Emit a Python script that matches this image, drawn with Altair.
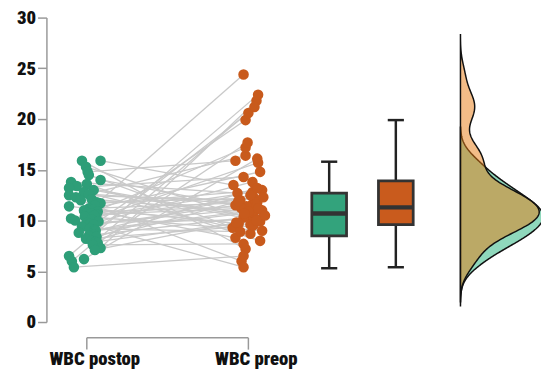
import altair as alt
import pandas as pd

# ---------------- data ----------------
groups = ["WBC postop", "WBC preop"]

post = [15.9, 15.9, 15.3, 14.8, 14.5, 14.0, 13.8, 13.6, 13.4, 13.2,
        13.0, 12.8, 12.6, 12.5, 12.3, 12.1, 12.0, 11.8, 11.7, 11.5,
        11.4, 11.2, 11.1, 11.0, 10.9, 10.8, 10.7, 10.6, 10.5, 10.4,
        10.2, 10.1, 10.0, 9.9, 9.8, 9.7, 9.6, 9.4, 9.2, 9.1,
        9.0, 8.8, 8.6, 8.5, 8.4, 8.2, 8.0, 7.9, 7.8, 7.6,
        7.3, 7.1, 6.5, 6.2, 6.0, 5.4]
pre = [7.2, 13.5, 9.9, 15.9, 8.7, 11.0, 12.7, 8.0, 10.4, 14.3,
       10.3, 9.3, 11.6, 12.0, 16.4, 10.8, 6.0, 12.2, 13.0, 24.4,
       9.7, 11.8, 9.6, 14.8, 8.3, 11.4, 17.2, 11.2, 12.8, 9.0,
       12.3, 15.7, 5.4, 13.8, 10.1, 11.2, 19.9, 11.5, 8.9, 10.9,
       12.5, 10.7, 10.5, 20.6, 13.2, 9.5, 11.9, 10.0, 17.7, 7.7,
       21.8, 9.8, 22.4, 16.1, 21.2, 6.5]
post_jitter = [-0.12, 0.34, -0.02, 0.02, 0.05, 0.34, -0.39, 0.0, -0.25, -0.44,
               0.17, -0.07, 0.05, -0.44, -0.27, 0.12, -0.15, 0.25, 0.34, 0.2,
               -0.44, 0.05, 0.15, -0.07, 0.27, 0.0, 0.1, 0.24, 0.18, -0.05,
               -0.39, 0.12, -0.29, 0.29, 0.0, 0.08, 0.17, -0.12, 0.07, 0.2,
               0.22, -0.2, 0.17, 0.05, 0.24, -0.02, 0.12, 0.22, 0.27, 0.15,
               0.34, 0.2, -0.44, -0.07, -0.37, -0.32]
pre_jitter = [-0.07, -0.37, 0.29, -0.32, 0.05, 0.34, -0.27, 0.29, 0.0, -0.12,
              -0.12, -0.39, 0.1, -0.2, -0.07, 0.12, -0.17, 0.15, 0.34, -0.12,
              -0.24, 0.22, 0.05, 0.29, -0.32, -0.05, -0.07, -0.17, 0.1, 0.34,
              0.37, 0.24, -0.12, 0.1, 0.27, 0.25, -0.07, -0.32, -0.2, 0.0,
              0.05, -0.1, 0.41, 0.0, 0.22, 0.12, -0.25, 0.2, -0.02, -0.12,
              0.2, -0.3, 0.24, 0.22, 0.15, -0.12]

box_low = [5.3, 5.4]
box_q1 = [8.5, 9.6]
box_median = [10.7, 11.3]
box_q3 = [12.7, 13.9]
box_high = [15.8, 19.9]

point_colors = ["#2e9e78", "#c85a1c"]
box_colors = ["#33a37c", "#c95b1d"]
dens_colors = ["#1fb27a", "#e8790f"]

# ---------------- layout ----------------
W, H = 492, 309          # 12 x-units, y 0..30
PX = H / 30.0            # px per y unit
GROUP_X = [1.0, 5.0]
BOX_X = [7.0, 8.65]
DENS_X = 10.25
DENS_W = [2.05, 1.95]
FONT = "Liberation Sans Narrow, Roboto Condensed, DejaVu Sans Condensed, Arial Narrow, sans-serif"

xs = alt.Scale(domain=[0, 12], nice=False, zero=False)
ys = alt.Scale(domain=[0, 30], nice=False, zero=False)

pairs = pd.DataFrame({
    "post": post, "pre": pre,
    "xa": [GROUP_X[0] + j for j in post_jitter],
    "xb": [GROUP_X[1] + j for j in pre_jitter],
})
points = pd.DataFrame({
    "group": [groups[0]] * len(post) + [groups[1]] * len(pre),
    "value": post + pre,
    "x": list(pairs["xa"]) + list(pairs["xb"]),
})
boxes = pd.DataFrame({
    "group": groups, "c": BOX_X, "lo": box_low, "q1": box_q1,
    "med": box_median, "q3": box_q3, "hi": box_high,
})
labels = pd.DataFrame({"group": groups, "x": GROUP_X})

yaxis = alt.Axis(values=[0, 5, 10, 15, 20, 25, 30], title=None, grid=False,
                 domainColor="#999999", domainWidth=1.5, tickColor="#999999",
                 tickWidth=1.5, tickSize=9, labelPadding=2, labelFontSize=19,
                 labelFont=FONT, labelFontWeight=900, labelColor="#111111")

lines = alt.Chart(pairs).mark_rule(color="#c9c9c9", strokeWidth=1.3).encode(
    x=alt.X("xa:Q", scale=xs, axis=None), x2="xb:Q",
    y=alt.Y("post:Q", scale=ys, axis=yaxis), y2="pre:Q")

dots = alt.Chart(points).mark_circle(size=115, opacity=1).encode(
    x=alt.X("x:Q", scale=xs), y=alt.Y("value:Q", scale=ys),
    color=alt.Color("group:N", scale=alt.Scale(domain=groups, range=point_colors), legend=None))

box_base = alt.Chart(boxes).transform_calculate(
    l="datum.c - 0.43", r="datum.c + 0.43", cl="datum.c - 0.2", cr="datum.c + 0.2")
whisk_hi = box_base.mark_rule(color="#222222", strokeWidth=2.5).encode(
    x=alt.X("c:Q", scale=xs), y=alt.Y("q3:Q", scale=ys), y2="hi:Q")
whisk_lo = box_base.mark_rule(color="#222222", strokeWidth=2.5).encode(
    x=alt.X("c:Q", scale=xs), y=alt.Y("lo:Q", scale=ys), y2="q1:Q")
cap_hi = box_base.mark_rule(color="#222222", strokeWidth=2.5).encode(
    x=alt.X("cl:Q", scale=xs), x2="cr:Q", y=alt.Y("hi:Q", scale=ys))
cap_lo = box_base.mark_rule(color="#222222", strokeWidth=2.5).encode(
    x=alt.X("cl:Q", scale=xs), x2="cr:Q", y=alt.Y("lo:Q", scale=ys))
box = box_base.mark_bar(stroke="#333333", strokeWidth=2.8).encode(
    x=alt.X("l:Q", scale=xs), x2="r:Q", y=alt.Y("q1:Q", scale=ys), y2="q3:Q",
    fill=alt.Fill("group:N", scale=alt.Scale(domain=groups, range=box_colors), legend=None))
med = box_base.mark_rule(color="#333333", strokeWidth=4.5).encode(
    x=alt.X("l:Q", scale=xs), x2="r:Q", y=alt.Y("med:Q", scale=ys))


def density(i, extent):
    return (alt.Chart(points)
            .transform_filter(alt.datum.group == groups[i])
            .transform_density("value", as_=["v", "density"], bandwidth=1.2,
                               extent=extent, steps=200)
            .transform_joinaggregate(maxd="max(density)")
            .transform_calculate(xb=f"{DENS_X}",
                                 xc=f"{DENS_X} + datum.density / datum.maxd * {DENS_W[i]}")
            .mark_area(orient="horizontal", fill=dens_colors[i], fillOpacity=0.5,
                       stroke="#111111", strokeWidth=1.5)
            .encode(y=alt.Y("v:Q", scale=ys), x=alt.X("xb:Q", scale=xs), x2="xc:Q"))


dens_post = density(0, [2.0, 19.2])
dens_pre = density(1, [1.6, 28.3])

# bracket-style x axis
y_line = -16 / PX
y_tick = -28 / PX
y_text = -44 / PX
br_h = alt.Chart(labels).mark_rule(color="#999999", strokeWidth=1.5).encode(
    x=alt.X("min(x):Q", scale=xs), x2="max(x):Q", y=alt.datum(y_line, scale=ys))
br_v = alt.Chart(labels).mark_rule(color="#999999", strokeWidth=1.5).encode(
    x=alt.X("x:Q", scale=xs), y=alt.datum(y_line, scale=ys), y2=alt.datum(y_tick))
txt = alt.Chart(labels).mark_text(fontSize=19, fontWeight=900, font=FONT, color="#111111",
                                  baseline="alphabetic", align="center", dx=8).encode(
    x=alt.X("x:Q", scale=xs), y=alt.datum(y_text, scale=ys), text="group:N")

chart = alt.layer(lines, dots, whisk_hi, whisk_lo, cap_hi, cap_lo, box, med,
                  dens_post, dens_pre, br_h, br_v, txt).properties(
    width=W, height=H,
    padding={"left": 39, "top": 7, "right": 10, "bottom": 50},
    autosize=alt.AutoSizeParams(type="none"),
).configure_view(stroke=None)

chart.save("out.html", embed_options={"renderer": "svg", "actions": False})
